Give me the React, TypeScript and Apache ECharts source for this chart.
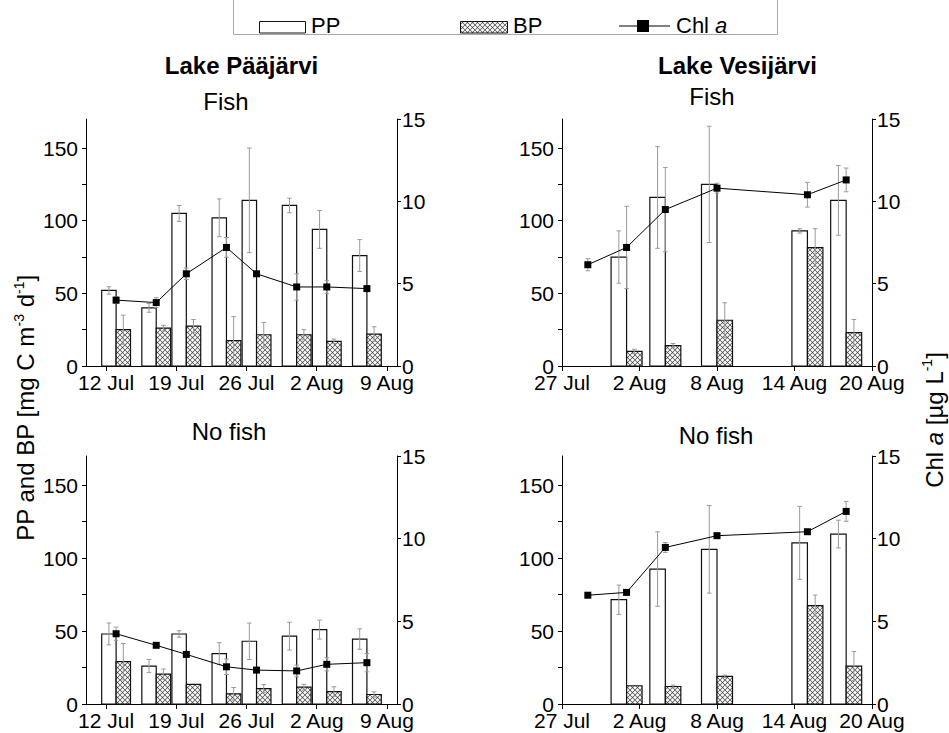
import React, { useEffect, useRef } from 'react';
import * as echarts from 'echarts';

const FONT = "'Liberation Sans', Arial, Helvetica, sans-serif";

// ---------------- data ----------------
// sampling dates (MM-DD)
const paaDates = ['07-13', '07-17', '07-20', '07-24', '07-27', '07-31', '08-03', '08-07'];
const vesBarDates = ['08-01', '08-04', '08-08', '08-15', '08-18'];
const vesChlDates = ['07-29', '08-01', '08-04', '08-08', '08-15', '08-18'];

// Lake Pääjärvi, Fish
const paaFishPP = [52, 40, 105, 102, 114, 110.5, 94, 76];
const paaFishPPErr = [2.5, 3, 5.5, 13, 36, 5, 13, 11];
const paaFishBP = [25, 26, 27.5, 17.5, 21.5, 21.5, 17, 22];
const paaFishBPErr = [10, 2, 4.5, 16.5, 8.5, 3.5, 1.5, 5];
const paaFishChl = [4.0, 3.85, 5.6, 7.2, 5.6, 4.8, 4.8, 4.7];
const paaFishChlErr = [0.2, 0.3, 0.35, 0.6, 0, 0.8, 0.4, 0];

// Lake Pääjärvi, No fish
const paaNoFishPP = [48, 26, 48, 34.5, 43, 46.5, 51, 44.5];
const paaNoFishPPErr = [7.5, 4.5, 2.2, 7.5, 12.5, 9.5, 6.5, 7];
const paaNoFishBP = [29, 20.5, 13.5, 7, 10.5, 11.5, 8.5, 6.5];
const paaNoFishBPErr = [12.5, 3.5, 0, 4.3, 2.8, 2, 3.3, 1.8];
const paaNoFishChl = [4.25, 3.55, 3.0, 2.25, 2.05, 2.0, 2.4, 2.5];
const paaNoFishChlErr = [0.4, 0, 0, 0.47, 0, 0.35, 0.4, 0.55];

// Lake Vesijärvi, Fish
const vesFishPP = [75, 116, 125, 93, 114];
const vesFishPPErr = [18, 35, 40, 1.5, 24];
const vesFishBP = [10, 14, 31.5, 81.5, 23];
const vesFishBPErr = [1.5, 1.5, 12, 13, 9];
const vesFishChl = [6.15, 7.2, 9.5, 10.8, 10.4, 11.3];
const vesFishChlErr = [0.37, 2.5, 2.56, 0.3, 0.75, 0.72];

// Lake Vesijärvi, No fish
const vesNoFishPP = [71.5, 92.5, 106, 110.5, 116.5];
const vesNoFishPPErr = [10, 25.5, 30, 25, 9.5];
const vesNoFishBP = [12.5, 12, 19, 67.5, 26];
const vesNoFishBPErr = [0, 1, 0.8, 7.2, 10];
const vesNoFishChl = [6.58, 6.75, 9.47, 10.18, 10.42, 11.65];
const vesNoFishChlErr = [0, 0, 0.3, 0.16, 0, 0.6];

// axes
const paaAxisRange = ['07-10', '08-10'];
const paaTicks = ['07-12', '07-19', '07-26', '08-02', '08-09'];
const vesAxisRange = ['07-27', '08-20'];
const vesTicks = ['07-27', '08-02', '08-08', '08-14', '08-20'];
const ppTicks = [0, 25, 50, 75, 100, 125, 150];
const ppLabels = [0, 50, 100, 150];
const chlTicks = [0, 5, 10, 15];

const lakeTitles = ['Lake Pääjärvi', 'Lake Vesijärvi'];
const panelTitles = ['Fish', 'Fish', 'No fish', 'No fish'];

// ---------------- helpers ----------------
function toDay(s: string) {
  const [m, d] = s.split('-').map(Number);
  return m === 7 ? d : 31 + d;
}
function dayLabel(v: number) {
  const r = Math.round(v);
  return r > 31 ? `${r - 31} Aug` : `${r} Jul`;
}

type Panel = {
  barDates: string[]; chlDates: string[];
  pp: number[]; ppErr: number[]; bp: number[]; bpErr: number[];
  chl: number[]; chlErr: number[]; range: string[]; ticks: string[];
};

const panels: Panel[] = [
  { barDates: paaDates, chlDates: paaDates, pp: paaFishPP, ppErr: paaFishPPErr, bp: paaFishBP, bpErr: paaFishBPErr, chl: paaFishChl, chlErr: paaFishChlErr, range: paaAxisRange, ticks: paaTicks },
  { barDates: vesBarDates, chlDates: vesChlDates, pp: vesFishPP, ppErr: vesFishPPErr, bp: vesFishBP, bpErr: vesFishBPErr, chl: vesFishChl, chlErr: vesFishChlErr, range: vesAxisRange, ticks: vesTicks },
  { barDates: paaDates, chlDates: paaDates, pp: paaNoFishPP, ppErr: paaNoFishPPErr, bp: paaNoFishBP, bpErr: paaNoFishBPErr, chl: paaNoFishChl, chlErr: paaNoFishChlErr, range: paaAxisRange, ticks: paaTicks },
  { barDates: vesBarDates, chlDates: vesChlDates, pp: vesNoFishPP, ppErr: vesNoFishPPErr, bp: vesNoFishBP, bpErr: vesNoFishBPErr, chl: vesNoFishChl, chlErr: vesNoFishChlErr, range: vesAxisRange, ticks: vesTicks },
];

const GRIDS = [
  { left: 86, top: 119, width: 311, height: 247 },
  { left: 562, top: 119, width: 310, height: 247 },
  { left: 86, top: 456, width: 311, height: 248 },
  { left: 562, top: 456, width: 310, height: 248 },
];
const BAR_W = [14.4, 15.5, 14.4, 15.5];
const ERR = '#9a9a9a';

function makeHatch() {
  const s = 20;
  const c = document.createElement('canvas');
  c.width = s; c.height = s;
  const g = c.getContext('2d')!;
  g.fillStyle = '#fff';
  g.fillRect(0, 0, s, s);
  g.strokeStyle = '#4a4a4a';
  g.lineWidth = 3;
  g.beginPath();
  g.moveTo(-2, -2); g.lineTo(s + 2, s + 2);
  g.moveTo(s + 2, -2); g.lineTo(-2, s + 2);
  g.stroke();
  return { image: c.toDataURL(), repeat: 'repeat', imageWidth: 5, imageHeight: 5 };
}

function errBar(cx: number, yHi: number, yLo: number, cap = 2.3) {
  const st = { stroke: ERR, lineWidth: 1 };
  return {
    type: 'group',
    children: [
      { type: 'line', shape: { x1: cx, y1: yHi, x2: cx, y2: yLo }, style: st },
      { type: 'line', shape: { x1: cx - cap, y1: yHi, x2: cx + cap, y2: yHi }, style: st },
      { type: 'line', shape: { x1: cx - cap, y1: yLo, x2: cx + cap, y2: yLo }, style: st },
    ],
  };
}

function barRenderer(side: 'L' | 'R', barW: number, fill: any) {
  return (_params: any, api: any) => {
    const day = api.value(0), v = api.value(1), e = api.value(2);
    const p0 = api.coord([day, 0]);
    const p1 = api.coord([day, v]);
    const x0 = side === 'L' ? p0[0] - barW : p0[0];
    const children: any[] = [{
      type: 'rect',
      shape: { x: x0, y: p1[1], width: barW, height: p0[1] - p1[1] },
      style: { fill, stroke: '#111', lineWidth: 1.2 },
    }];
    if (e > 0) {
      const yHi = api.coord([day, v + e])[1];
      const yLo = api.coord([day, Math.max(v - e, 0)])[1];
      children.push(errBar(x0 + barW / 2, yHi, yLo));
    }
    return { type: 'group', children };
  };
}

function chlErrRenderer(_params: any, api: any) {
  const day = api.value(0), v = api.value(1), e = api.value(2);
  if (!(e > 0)) return { type: 'group', children: [] };
  const x = api.coord([day, v])[0];
  const yHi = api.coord([day, v + e])[1];
  const yLo = api.coord([day, Math.max(v - e, 0)])[1];
  return errBar(x, yHi, yLo);
}

function txt(text: string, x: number, y: number, size: number, extra: any = {}) {
  return {
    type: 'text',
    x, y,
    rotation: extra.rotation || 0,
    silent: true,
    style: {
      text,
      fontSize: size,
      fontFamily: FONT,
      fontWeight: extra.weight || 'normal',
      fill: '#000',
      align: extra.align || 'center',
      textAlign: extra.align || 'center',
      verticalAlign: 'middle',
      textVerticalAlign: 'middle',
      lineHeight: extra.lineHeight,
      rich: extra.rich,
    },
  };
}

function buildOption() {
  const hatch = makeHatch();
  const xAxis = panels.map((p, i) => {
    const ticks = p.ticks.map(toDay);
    return {
      type: 'value',
      gridIndex: i,
      min: toDay(p.range[0]),
      max: toDay(p.range[1]),
      axisLine: { show: true, onZero: false, lineStyle: { color: '#000', width: 1 } },
      axisTick: { show: true, length: 5, customValues: ticks, lineStyle: { color: '#000', width: 1 } },
      axisLabel: { show: true, customValues: ticks, formatter: (v: number) => dayLabel(v), fontSize: 21, color: '#000', fontFamily: FONT, margin: 6 },
      splitLine: { show: false },
    };
  });
  const yAxis: any[] = [];
  panels.forEach((_p, i) => {
    yAxis.push({
      type: 'value', gridIndex: i, position: 'left', min: 0, max: 170,
      axisLine: { show: true, lineStyle: { color: '#000', width: 1 } },
      axisTick: { show: true, length: 4, customValues: ppTicks, lineStyle: { color: '#000', width: 1 } },
      axisLabel: { customValues: ppLabels, fontSize: 21, color: '#000', fontFamily: FONT, margin: 8 },
      splitLine: { show: false },
    });
    yAxis.push({
      type: 'value', gridIndex: i, position: 'right', min: 0, max: 15,
      axisLine: { show: true, lineStyle: { color: '#000', width: 1 } },
      axisTick: { show: true, length: 4, customValues: chlTicks, lineStyle: { color: '#000', width: 1 } },
      axisLabel: { customValues: chlTicks, fontSize: 21, color: '#000', fontFamily: FONT, margin: 5 },
      splitLine: { show: false },
    });
  });

  const series: any[] = [];
  panels.forEach((p, i) => {
    const bd = p.barDates.map(toDay);
    const cd = p.chlDates.map(toDay);
    series.push({
      type: 'custom', name: 'PP', xAxisIndex: i, yAxisIndex: 2 * i, silent: true, z: 2,
      data: bd.map((d, k) => [d, p.pp[k], p.ppErr[k]]),
      renderItem: barRenderer('L', BAR_W[i], '#fff'),
    });
    series.push({
      type: 'custom', name: 'BP', xAxisIndex: i, yAxisIndex: 2 * i, silent: true, z: 2,
      data: bd.map((d, k) => [d, p.bp[k], p.bpErr[k]]),
      renderItem: barRenderer('R', BAR_W[i], hatch),
    });
    series.push({
      type: 'custom', name: 'ChlErr', xAxisIndex: i, yAxisIndex: 2 * i + 1, silent: true, z: 3,
      data: cd.map((d, k) => [d, p.chl[k], p.chlErr[k]]),
      renderItem: chlErrRenderer,
    });
    series.push({
      type: 'line', name: 'Chl a', xAxisIndex: i, yAxisIndex: 2 * i + 1, silent: true, z: 4,
      data: cd.map((d, k) => [d, p.chl[k]]),
      symbol: 'rect', symbolSize: 7, showSymbol: true,
      lineStyle: { color: '#000', width: 1 },
      itemStyle: { color: '#000' },
    });
  });

  const NAME = 24;
  const sup = { fontSize: 14, fontFamily: FONT, fill: '#000', lineHeight: 14, verticalAlign: 'top' };
  const graphics: any[] = [
    // legend
    { type: 'rect', silent: true, shape: { x: 233.5, y: -3, width: 544, height: 37.5 }, style: { fill: 'none', stroke: '#a8a8a8', lineWidth: 1 } },
    { type: 'rect', silent: true, shape: { x: 259.5, y: 21.5, width: 46, height: 11.5 }, style: { fill: '#fff', stroke: '#111', lineWidth: 1 } },
    txt('PP', 311, 25, 22, { align: 'left' }),
    { type: 'rect', silent: true, shape: { x: 460.5, y: 21.5, width: 47, height: 11.5 }, style: { fill: hatch, stroke: '#111', lineWidth: 1 } },
    txt('BP', 513, 25, 22, { align: 'left' }),
    { type: 'line', silent: true, shape: { x1: 619, y1: 26, x2: 670, y2: 26 }, style: { stroke: '#000', lineWidth: 1 } },
    { type: 'rect', silent: true, shape: { x: 637, y: 20, width: 12, height: 12 }, style: { fill: '#000' } },
    txt('Chl {it|a}', 676, 25, 22, { align: 'left', rich: { it: { fontSize: 22, fontFamily: FONT, fontStyle: 'italic', fill: '#000' } } }),
    // titles
    txt(lakeTitles[0], 241.5, 65, 24, { weight: 'bold' }),
    txt(lakeTitles[1], 737.5, 65, 24, { weight: 'bold' }),
    txt(panelTitles[0], 226, 101, 24),
    txt(panelTitles[1], 712, 96.7, 24),
    txt(panelTitles[2], 229, 431.7, 24),
    txt(panelTitles[3], 716, 435.7, 24),
    // axis names
    txt('PP and BP [mg C m{sup|-3} d{sup|-1}]', 25.5, 408, NAME, { rotation: Math.PI / 2, lineHeight: 28, rich: { sup } }),
    txt('Chl {it|a} [µg L{sup|-1}]', 934, 420, NAME, { rotation: Math.PI / 2, lineHeight: 28, rich: { sup, it: { fontSize: NAME, fontFamily: FONT, fontStyle: 'italic', fill: '#000', lineHeight: 28 } } }),
  ];

  return {
    animation: false,
    backgroundColor: '#fff',
    textStyle: { fontFamily: FONT },
    grid: GRIDS.map((g) => ({ ...g, containLabel: false })),
    xAxis,
    yAxis,
    series,
    graphic: { elements: graphics },
  };
}

export default function App() {
  const ref = useRef<HTMLDivElement>(null);
  useEffect(() => {
    if (!ref.current) return;
    const chart = echarts.init(ref.current, undefined, { renderer: 'svg' });
    chart.setOption(buildOption() as any);
    return () => chart.dispose();
  }, []);
  return <div ref={ref} style={{ position: 'absolute', left: 0, top: 0, width: 949, height: 733, background: '#fff' }} />;
}
